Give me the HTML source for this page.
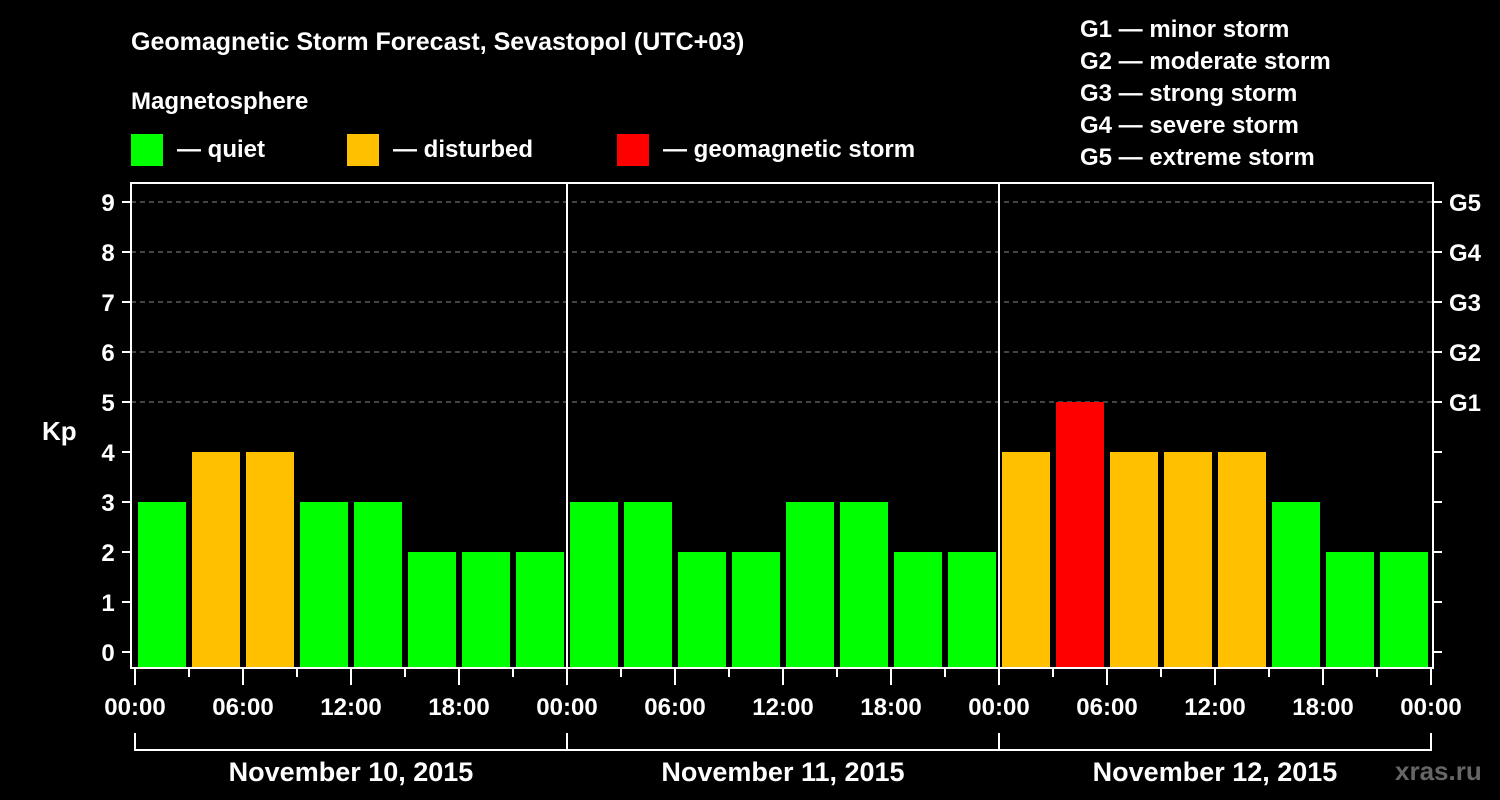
<!DOCTYPE html>
<html><head><meta charset="utf-8"><style>
html,body{margin:0;padding:0;background:#000;}
svg{display:block;font-family:"Liberation Sans",Arial,sans-serif;font-weight:bold;}
</style></head><body>
<svg width="1500" height="800" viewBox="0 0 1500 800">
<text x="131" y="50" fill="#fff" font-size="25">Geomagnetic Storm Forecast, Sevastopol (UTC+03)</text>
<text x="131" y="109" fill="#fff" font-size="24">Magnetosphere</text>
<g>
<rect x="131" y="134" width="32" height="32" fill="#00ff00"/>
<text x="177" y="157" fill="#fff" font-size="24">— quiet</text>
<rect x="347" y="134" width="32" height="32" fill="#ffc000"/>
<text x="393" y="157" fill="#fff" font-size="24">— disturbed</text>
<rect x="617" y="134" width="32" height="32" fill="#ff0000"/>
<text x="663" y="157" fill="#fff" font-size="24">— geomagnetic storm</text>
</g>
<g fill="#fff" font-size="24">
<text x="1080" y="37">G1 — minor storm</text>
<text x="1080" y="69">G2 — moderate storm</text>
<text x="1080" y="101">G3 — strong storm</text>
<text x="1080" y="133">G4 — severe storm</text>
<text x="1080" y="165">G5 — extreme storm</text>
</g>
<text x="42" y="440" fill="#fff" font-size="26">Kp</text>
<text x="1395" y="780" fill="#666" font-size="26">xras.ru</text>
<g id="plot"></g>
</svg>
<script>
const kpValues = [3,4,4,3,3,2,2,2, 3,3,2,2,3,3,2,2, 4,5,4,4,4,3,2,2];
const dayLabels = ["November 10, 2015","November 11, 2015","November 12, 2015"];
const yTicks = [0,1,2,3,4,5,6,7,8,9];
const gLabels = [[5,"G1"],[6,"G2"],[7,"G3"],[8,"G4"],[9,"G5"]];
const hourLabels = ["00:00","06:00","12:00","18:00"];

const NS="http://www.w3.org/2000/svg";
const g=document.getElementById('plot');
const X0=135, SLOT=54;
const xs=i=>X0+i*SLOT;
const ys=v=>652-v*50;
function el(t,a,p){const e=document.createElementNS(NS,t);for(const k in a)e.setAttribute(k,a[k]);(p||g).appendChild(e);return e;}

// gridlines
gLabels.forEach(([v,l])=>{
  const ln=el('line',{x1:131,x2:1433,y1:ys(v),y2:ys(v),stroke:'#888','stroke-width':1,'stroke-dasharray':'5,4'});
  
  
  const t=el('text',{x:1449,y:ys(v)+9,fill:'#fff','font-size':24});
  t.textContent=l;
  
  
});
// bars
kpValues.forEach((v,i)=>{
  const c=v>=5?'#ff0000':(v>=4?'#ffc000':'#00ff00');
  const r=el('rect',{x:xs(i)+3,y:ys(v),width:48,height:667-ys(v),fill:c});
  
  
});
// frame
const fr=el('rect',{x:131,y:183,width:1302,height:485,fill:'none',stroke:'#fff','stroke-width':2});


[1,2].forEach(d=>{
  const l=el('line',{x1:xs(d*8),x2:xs(d*8),y1:183,y2:668,stroke:'#fff','stroke-width':2});
  
  
});
// y ticks
yTicks.forEach(v=>{
  el('line',{x1:122,x2:131,y1:ys(v),y2:ys(v),stroke:'#fff','stroke-width':2});
  el('line',{x1:1433,x2:1442,y1:ys(v),y2:ys(v),stroke:'#fff','stroke-width':2});
  const t=el('text',{x:108,y:ys(v)+9,fill:'#fff','font-size':24,'text-anchor':'middle'});
  t.textContent=v;
  
  
});
// x ticks
for(let i=0;i<=kpValues.length;i++){
  const big=i%2===0;
  el('line',{x1:xs(i),x2:xs(i),y1:668,y2:big?685:677,stroke:'#fff','stroke-width':2});
  if(big){
    const t=el('text',{x:xs(i),y:715,fill:'#fff','font-size':24,'text-anchor':'middle'});
    t.textContent=hourLabels[(i/2)%4];
    
    
  }
}
// day brackets
dayLabels.forEach((d,k)=>{
  const a=xs(k*8),b=xs(k*8+8);
  el('line',{x1:a,x2:b,y1:750,y2:750,stroke:'#fff','stroke-width':2});
  el('line',{x1:a,x2:a,y1:733,y2:751,stroke:'#fff','stroke-width':2});
  el('line',{x1:b,x2:b,y1:733,y2:751,stroke:'#fff','stroke-width':2});
  const t=el('text',{x:(a+b)/2,y:781,fill:'#fff','font-size':27,'text-anchor':'middle'});
  t.textContent=d;
  
  
});
</script>
</body></html>
